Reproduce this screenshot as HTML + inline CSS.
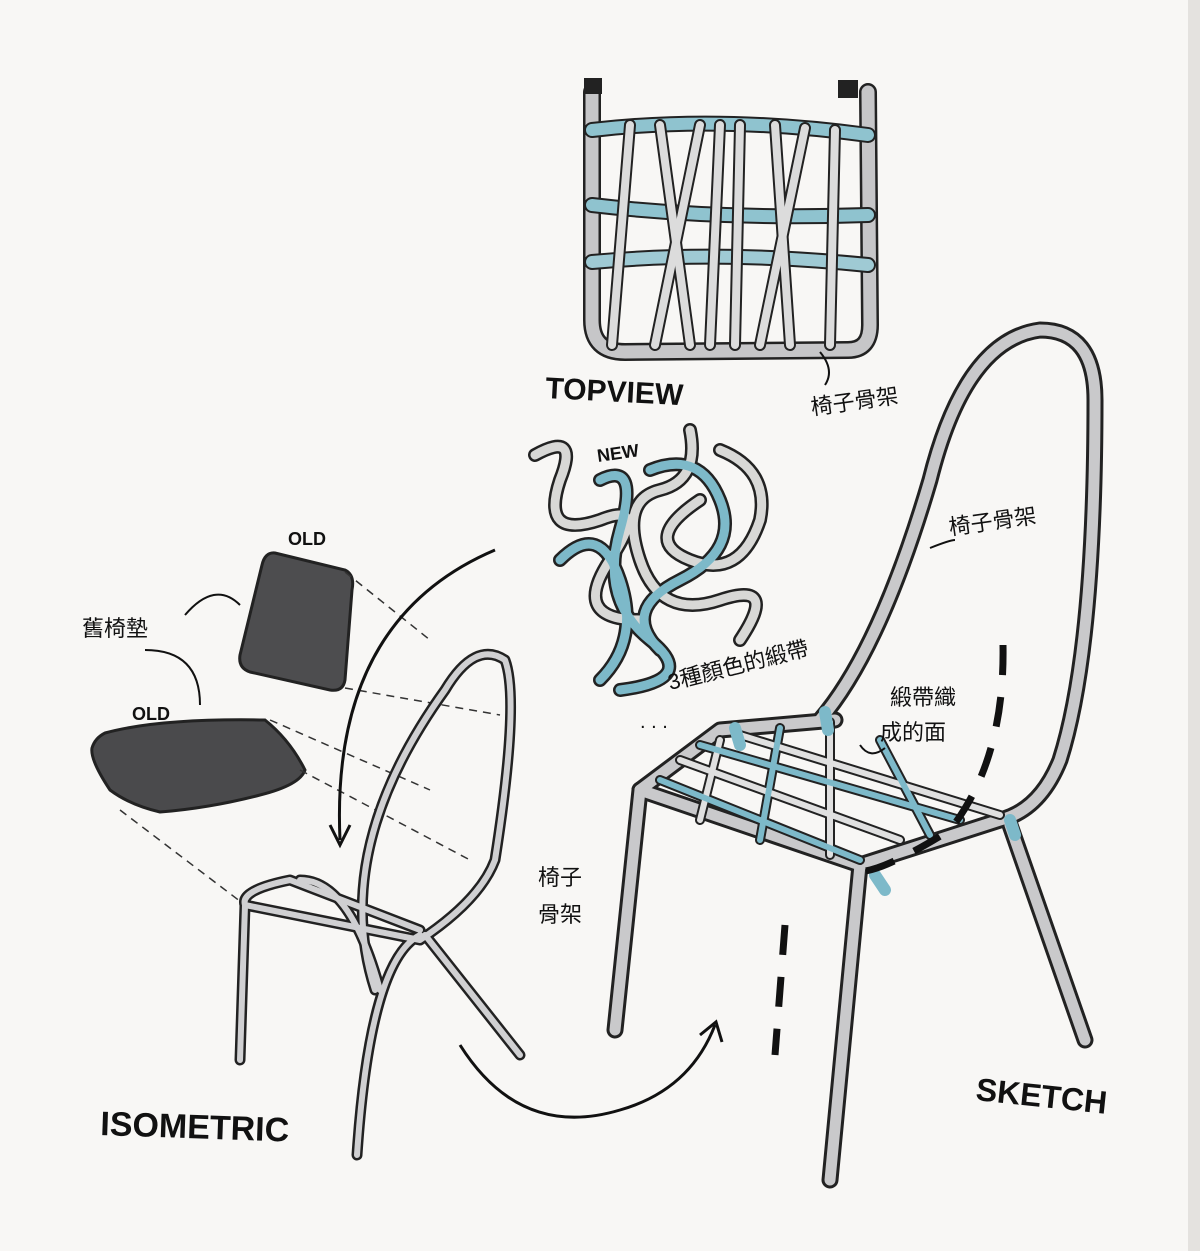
<!DOCTYPE html>
<html><head><meta charset="utf-8"><style>
html,body{margin:0;padding:0;background:#f8f7f5;}
svg{display:block}
text{font-family:"Liberation Sans","Noto Sans CJK TC",sans-serif;fill:#111;}
</style></head><body>
<svg width="1200" height="1251" viewBox="0 0 1200 1251" xmlns="http://www.w3.org/2000/svg">
<rect width="1200" height="1251" fill="#f8f7f5"/>
<rect x="1188" y="0" width="12" height="1251" fill="#e4e2df"/>

<!-- TOP VIEW frame -->
<g fill="none" stroke-linecap="round" stroke-linejoin="round">
<path d="M592,92 L592,320 Q592,352 625,352 L848,350 Q870,350 870,325 L868,92" stroke="#222" stroke-width="18"/>
<path d="M592,92 L592,320 Q592,352 625,352 L848,350 Q870,350 870,325 L868,92" stroke="#c6c6c8" stroke-width="13"/>
<rect x="584" y="78" width="18" height="16" fill="#222"/>
<rect x="838" y="80" width="20" height="18" fill="#222"/>
<g stroke="#222" stroke-width="16">
<path d="M592,130 Q720,115 868,135"/><path d="M592,205 Q720,220 868,215"/><path d="M592,262 Q720,250 868,265"/>
</g>
<g stroke-width="12">
<path d="M592,130 Q720,115 868,135" stroke="#8fc3cf"/>
<path d="M592,205 Q720,220 868,215" stroke="#8fc3cf"/>
<path d="M592,262 Q720,250 868,265" stroke="#9fcad4"/>
</g>
<g stroke="#222" stroke-width="12">
<path d="M630,125 L612,345"/><path d="M660,125 L690,345"/><path d="M700,125 L655,345"/><path d="M740,125 L735,345"/><path d="M775,125 L790,345"/><path d="M805,128 L760,345"/><path d="M835,130 L830,345"/><path d="M720,125 L710,345"/>
</g>
<g stroke="#dcdcdc" stroke-width="8">
<path d="M630,125 L612,345"/><path d="M660,125 L690,345"/><path d="M700,125 L655,345"/><path d="M740,125 L735,345"/><path d="M775,125 L790,345"/><path d="M805,128 L760,345"/><path d="M835,130 L830,345"/><path d="M720,125 L710,345"/>
</g>
</g>
<text x="545" y="398" font-size="30" font-weight="bold" transform="rotate(3 545 398)">TOPVIEW</text>
<text x="812" y="415" font-size="22" transform="rotate(-8 812 415)">椅子骨架</text>
<path d="M820,352 Q835,370 825,385" fill="none" stroke="#111" stroke-width="2"/>

<!-- tangle -->
<g fill="none" stroke-linecap="round">
<g stroke="#222" stroke-width="14">
<path d="M535,455 Q580,430 560,480 Q540,540 600,520 Q650,500 610,560 Q570,620 640,620"/>
<path d="M690,430 Q700,480 660,490 Q620,500 640,560 Q660,620 720,600 Q780,580 740,640"/>
<path d="M720,450 Q770,470 760,520 Q740,580 690,560 Q640,540 700,500"/>
<path d="M600,480 Q640,460 620,530 Q600,600 650,640 Q700,680 620,690"/>
<path d="M650,470 Q700,450 720,500 Q740,550 680,580 Q620,610 660,650"/>
<path d="M560,560 Q600,520 620,580 Q640,640 600,680"/>
</g>
<g stroke="#d8d8d6" stroke-width="9">
<path d="M535,455 Q580,430 560,480 Q540,540 600,520 Q650,500 610,560 Q570,620 640,620"/>
<path d="M690,430 Q700,480 660,490 Q620,500 640,560 Q660,620 720,600 Q780,580 740,640"/>
<path d="M720,450 Q770,470 760,520 Q740,580 690,560 Q640,540 700,500"/>
</g>
<g stroke="#7db9c9" stroke-width="9">
<path d="M600,480 Q640,460 620,530 Q600,600 650,640 Q700,680 620,690"/>
<path d="M650,470 Q700,450 720,500 Q740,550 680,580 Q620,610 660,650"/>
<path d="M560,560 Q600,520 620,580 Q640,640 600,680"/>
</g>
</g>
<text x="598" y="462" font-size="18" font-weight="bold" transform="rotate(-8 598 462)">NEW</text>
<text x="670" y="690" font-size="22" transform="rotate(-14 670 690)">3種顏色的緞帶</text>
<text x="640" y="728" font-size="20">. . .</text>

<!-- OLD cushions -->
<path d="M275,553 L345,570 Q355,575 352,590 L345,680 Q343,692 330,690 L250,672 Q238,668 240,655 L262,565 Q265,552 275,553 Z" fill="#4d4d4f" stroke="#222" stroke-width="3"/>
<path d="M105,733 Q160,718 265,720 Q290,740 305,770 Q300,785 260,795 Q210,808 160,812 Q130,805 110,790 Q90,760 92,748 Q95,738 105,733 Z" fill="#4a4a4c" stroke="#222" stroke-width="3"/>
<text x="288" y="545" font-size="18" font-weight="bold">OLD</text>
<text x="132" y="720" font-size="18" font-weight="bold">OLD</text>
<text x="82" y="636" font-size="22">舊椅墊</text>
<path d="M185,615 Q215,580 240,605" fill="none" stroke="#111" stroke-width="2"/>
<path d="M145,650 Q200,650 200,705" fill="none" stroke="#111" stroke-width="2"/>

<g stroke="#333" stroke-width="1.5" stroke-dasharray="8 6" fill="none">
<path d="M345,572 L430,640"/><path d="M345,688 L500,715"/><path d="M300,770 L470,860"/><path d="M120,810 L245,905"/><path d="M270,720 L430,790"/>
</g>

<!-- Isometric chair -->
<g fill="none" stroke-linecap="round" stroke-linejoin="round">
<g stroke="#222" stroke-width="11">
<path d="M375,990 Q330,850 445,690 Q475,640 505,660 Q520,700 495,860 Q480,900 420,940 L245,905 Q240,890 290,880 L420,930"/>
<path d="M245,905 L240,1060"/><path d="M425,935 L520,1055"/><path d="M420,935 Q370,960 357,1155"/>
<path d="M300,880 Q350,880 380,990"/>
</g>
<g stroke="#d0d0d2" stroke-width="6">
<path d="M375,990 Q330,850 445,690 Q475,640 505,660 Q520,700 495,860 Q480,900 420,940 L245,905 Q240,890 290,880 L420,930"/>
<path d="M245,905 L240,1060"/><path d="M425,935 L520,1055"/><path d="M420,935 Q370,960 357,1155"/>
<path d="M300,880 Q350,880 380,990"/>
</g>
</g>
<text x="538" y="885" font-size="22">椅子</text>
<text x="538" y="922" font-size="22">骨架</text>
<text x="100" y="1135" font-size="34" font-weight="bold" transform="rotate(2 100 1135)">ISOMETRIC</text>

<path d="M495,550 Q330,620 340,840" fill="none" stroke="#111" stroke-width="3"/>
<path d="M330,825 L340,845 L350,825" fill="none" stroke="#111" stroke-width="3"/>
<path d="M460,1045 Q520,1140 620,1110 Q690,1090 715,1025" fill="none" stroke="#111" stroke-width="3"/>
<path d="M700,1035 L716,1022 L722,1042" fill="none" stroke="#111" stroke-width="3"/>

<!-- Big chair -->
<g fill="none" stroke-linecap="round" stroke-linejoin="round">
<g stroke="#222" stroke-width="17">
<path d="M820,720 Q880,650 930,480 Q965,340 1040,330 Q1095,330 1095,400 Q1095,650 1060,760 Q1040,810 1000,820 L860,865 L640,790"/>
<path d="M640,790 L720,730 L835,720"/>
<path d="M640,790 L615,1030"/><path d="M860,865 L830,1180"/><path d="M1010,825 L1085,1040"/>
</g>
<g stroke="#c9c9cb" stroke-width="11">
<path d="M820,720 Q880,650 930,480 Q965,340 1040,330 Q1095,330 1095,400 Q1095,650 1060,760 Q1040,810 1000,820 L860,865 L640,790"/>
<path d="M640,790 L720,730 L835,720"/>
<path d="M615,1030 L640,790"/><path d="M860,865 L830,1180"/><path d="M1010,825 L1085,1040"/>
</g>
<g stroke="#222" stroke-width="10">
<path d="M680,760 L900,840"/><path d="M700,745 L960,820"/><path d="M740,735 L1000,815"/><path d="M660,780 L860,860"/>
<path d="M720,740 L700,820"/><path d="M780,728 L760,840"/><path d="M830,722 L830,855"/><path d="M880,740 L930,835"/>
</g>
<g stroke="#e0e0e0" stroke-width="6">
<path d="M680,760 L900,840"/><path d="M740,735 L1000,815"/><path d="M720,740 L700,820"/><path d="M830,722 L830,855"/>
</g>
<g stroke="#7db9c9" stroke-width="6">
<path d="M700,745 L960,820"/><path d="M660,780 L860,860"/><path d="M780,728 L760,840"/><path d="M880,740 L930,835"/>
</g>
<g stroke="#7db9c9" stroke-width="12">
<path d="M735,728 L740,745"/><path d="M825,712 L828,730"/><path d="M1010,820 L1015,835"/><path d="M875,875 L885,890"/>
</g>
</g>
<g stroke="#111" stroke-width="7" stroke-dasharray="30 22" fill="none">
<path d="M1003,645 Q1005,760 950,830 Q870,880 850,870"/>
<path d="M785,925 L775,1055"/>
</g>
<text x="950" y="535" font-size="22" transform="rotate(-8 950 535)">椅子骨架</text>
<path d="M930,548 Q950,540 955,540" fill="none" stroke="#111" stroke-width="2"/>
<text x="890" y="705" font-size="22">緞帶織</text>
<text x="880" y="740" font-size="22">成的面</text>
<path d="M860,745 Q870,760 885,748" fill="none" stroke="#111" stroke-width="2"/>
<text x="975" y="1100" font-size="32" font-weight="bold" transform="rotate(6 975 1100)">SKETCH</text>
</svg>
</body></html>
